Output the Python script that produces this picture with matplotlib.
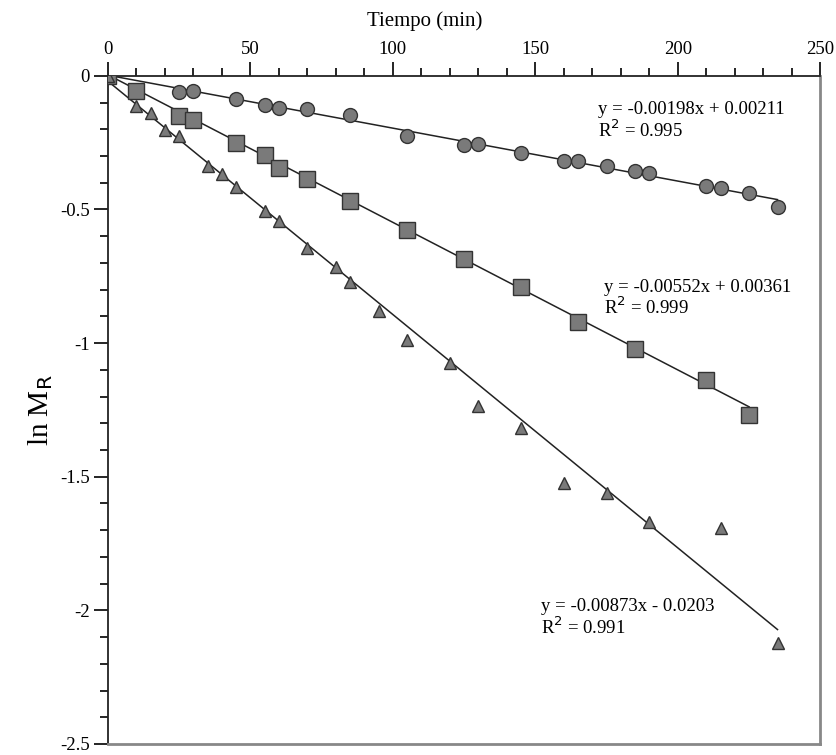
import numpy as np
import matplotlib
matplotlib.use('Agg')
import matplotlib.pyplot as plt
from matplotlib.ticker import MultipleLocator, FormatStrFormatter

plt.rcParams['font.family'] = ['Liberation Serif', 'DejaVu Serif']

# circles
t_circ = [0, 25, 30, 45, 55, 60, 70, 85, 105, 125, 130, 145, 160, 165, 175, 185, 190, 210, 215, 225, 235]
y_circ = [0, -0.059, -0.056, -0.087, -0.109, -0.121, -0.125, -0.146, -0.227, -0.258, -0.255, -0.289,
          -0.317, -0.317, -0.339, -0.358, -0.364, -0.412, -0.420, -0.439, -0.491]
# squares
t_sq = [0, 10, 25, 30, 45, 55, 60, 70, 85, 105, 125, 145, 165, 185, 210, 225]
y_sq = [0, -0.055, -0.152, -0.167, -0.250, -0.296, -0.345, -0.385, -0.470, -0.577, -0.684, -0.791,
        -0.922, -1.022, -1.138, -1.269]
# triangles
t_tri = [0, 10, 15, 20, 25, 35, 40, 45, 55, 60, 70, 80, 85, 95, 105, 120, 130, 145, 160, 175, 190, 215, 235]
y_tri = [0, -0.112, -0.140, -0.202, -0.225, -0.339, -0.367, -0.417, -0.504, -0.545, -0.643, -0.714,
         -0.770, -0.880, -0.988, -1.073, -1.237, -1.319, -1.524, -1.560, -1.668, -1.693, -2.123]

fits = [(-0.00198, 0.00211, 235), (-0.00552, 0.00361, 225), (-0.00873, -0.0203, 235)]
eq_text = ['y = -0.00198x + 0.00211\nR$^2$ = 0.995',
           'y = -0.00552x + 0.00361\nR$^2$ = 0.999',
           'y = -0.00873x - 0.0203\nR$^2$ = 0.991']
eq_pos = [(172, -0.095), (174, -0.76), (152, -1.955)]

fig = plt.figure(figsize=(8.37, 7.55), dpi=100)
ax = fig.add_axes([0.129, 0.0146, 0.851, 0.885])

for (m, b, xe) in fits:
    xx = np.array([0, xe])
    ax.plot(xx, m*xx + b, color='#222222', lw=1.1, zorder=2)

mk = dict(linestyle='none', markerfacecolor='#7a7a7a', markeredgecolor='#333333', markeredgewidth=1.0, zorder=3)
ax.plot(t_circ, y_circ, marker='o', markersize=10, **mk)
ax.plot(t_sq, y_sq, marker='s', markersize=11, **mk)
ax.plot(t_tri, y_tri, marker='^', markersize=9, **mk)

for s, (x, y) in zip(eq_text, eq_pos):
    ax.text(x, y, s, fontsize=13.5, va='top', ha='left', linespacing=1.05)

ax.set_xlim(0, 250)
ax.set_ylim(-2.5, 0)
ax.xaxis.tick_top()
ax.xaxis.set_label_position('top')
ax.xaxis.set_major_locator(MultipleLocator(50))
ax.xaxis.set_minor_locator(MultipleLocator(10))
ax.yaxis.set_major_locator(MultipleLocator(0.5))
ax.yaxis.set_minor_locator(MultipleLocator(0.1))
ax.yaxis.set_major_formatter(FormatStrFormatter('%g'))
ax.tick_params(which='major', length=10, width=1.2, labelsize=13.5, pad=3)
ax.tick_params(which='minor', length=6, width=1.2)
ax.set_xlabel('Tiempo (min)', fontsize=15)
ax.xaxis.set_label_coords(0.445, 1.075)
ax.set_ylabel('ln M$_\\mathrm{R}$', fontsize=21)
ax.yaxis.set_label_coords(-0.075, 0.5)

for s in ['left', 'top']:
    ax.spines[s].set_linewidth(1.3)
    ax.spines[s].set_color('#222222')
for s in ['right', 'bottom']:
    ax.spines[s].set_linewidth(2)
    ax.spines[s].set_color('#888888')

plt.savefig('out.png', dpi=100)
